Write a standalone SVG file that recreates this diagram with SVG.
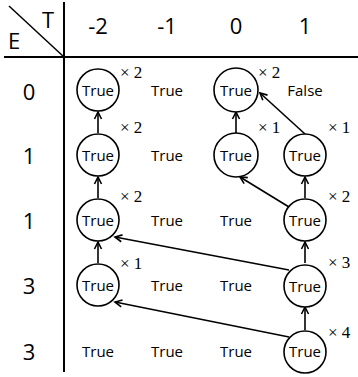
<svg xmlns="http://www.w3.org/2000/svg" width="358" height="377" viewBox="0 0 358 377">
<style>
.t{font-family:"Open Sans","Liberation Sans",sans-serif;font-size:15px;fill:#000;text-anchor:middle}
.h{font-family:"Open Sans","Liberation Sans",sans-serif;font-size:22px;fill:#000;text-anchor:middle}
.m{font-family:"Liberation Serif","DejaVu Serif",serif;font-size:17px;fill:#000}
.c{fill:#fff;stroke:#000;stroke-width:1.6}
.ax{stroke:#000;stroke-width:2;fill:none}
.ar{stroke:#000;stroke-width:1.6;fill:none;marker-end:url(#ah)}
</style>
<defs>
<marker id="ah" markerWidth="10" markerHeight="10" refX="8" refY="5" orient="auto" markerUnits="userSpaceOnUse">
<path d="M1,1.5 L8,5 L1,8.5" fill="none" stroke="#000" stroke-width="1.6"/>
</marker>
</defs>
<rect width="358" height="377" fill="#fff"/>
<g id="axes">
<line class="ax" x1="64" y1="2" x2="64" y2="372"/>
<line class="ax" x1="4" y1="57" x2="358" y2="57"/>
<line x1="9" y1="6" x2="64" y2="57" stroke="#000" stroke-width="1.5"/>
<text class="h" x="48" y="28">T</text>
<text class="h" x="14" y="49">E</text>
</g>
<g id="col-headers">
<text class="h" x="98" y="34">-2</text>
<text class="h" x="167" y="34">-1</text>
<text class="h" x="236" y="34">0</text>
<text class="h" x="305" y="34">1</text>
</g>
<g id="row-headers">
<text class="h" x="29" y="100">0</text>
<text class="h" x="29" y="164">1</text>
<text class="h" x="29" y="229">1</text>
<text class="h" x="29" y="294">3</text>
<text class="h" x="29" y="360">3</text>
</g>
<g id="connectors">
<line class="ar" x1="98" y1="133" x2="98" y2="112"/>
<line class="ar" x1="98" y1="198" x2="98" y2="177"/>
<line class="ar" x1="98" y1="263" x2="98" y2="242"/>
<line class="ar" x1="236" y1="133" x2="236" y2="112"/>
<line class="ar" x1="305" y1="134" x2="260" y2="93"/>
<line class="ar" x1="305" y1="198" x2="305" y2="177"/>
<line class="ar" x1="289" y1="207" x2="240" y2="177"/>
<line class="ar" x1="305" y1="263" x2="305" y2="242"/>
<line class="ar" x1="289" y1="270" x2="115" y2="237"/>
<line class="ar" x1="305" y1="330" x2="305" y2="307"/>
<line class="ar" x1="289" y1="337" x2="115" y2="302"/>
</g>
<g id="n-r0-cm2"><circle class="c" cx="98" cy="90" r="21"/><text class="t" x="98" y="96">True</text><text class="m" x="120" y="78">× 2</text></g>
<g id="n-r0-cm1"><text class="t" x="167" y="96">True</text></g>
<g id="n-r0-c0"><circle class="c" cx="236" cy="90" r="22"/><text class="t" x="236" y="96">True</text><text class="m" x="258" y="78">× 2</text></g>
<g id="n-r0-c1"><text class="t" x="305" y="96">False</text></g>
<g id="n-r1-cm2"><circle class="c" cx="98" cy="155" r="21"/><text class="t" x="98" y="161">True</text><text class="m" x="120" y="133">× 2</text></g>
<g id="n-r1-cm1"><text class="t" x="167" y="161">True</text></g>
<g id="n-r1-c0"><circle class="c" cx="236" cy="155" r="22"/><text class="t" x="236" y="161">True</text><text class="m" x="258" y="133">× 1</text></g>
<g id="n-r1-c1"><circle class="c" cx="305" cy="155" r="21"/><text class="t" x="305" y="161">True</text><text class="m" x="328" y="133">× 1</text></g>
<g id="n-r2-cm2"><circle class="c" cx="98" cy="220" r="21"/><text class="t" x="98" y="226">True</text><text class="m" x="120" y="202">× 2</text></g>
<g id="n-r2-cm1"><text class="t" x="167" y="226">True</text></g>
<g id="n-r2-c0"><text class="t" x="236" y="226">True</text></g>
<g id="n-r2-c1"><circle class="c" cx="305" cy="220" r="21"/><text class="t" x="305" y="226">True</text><text class="m" x="328" y="202">× 2</text></g>
<g id="n-r3-cm2"><circle class="c" cx="98" cy="285" r="21"/><text class="t" x="98" y="291">True</text><text class="m" x="120" y="269">× 1</text></g>
<g id="n-r3-cm1"><text class="t" x="167" y="291">True</text></g>
<g id="n-r3-c0"><text class="t" x="236" y="291">True</text></g>
<g id="n-r3-c1"><circle class="c" cx="305" cy="286" r="21"/><text class="t" x="305" y="292">True</text><text class="m" x="328" y="268">× 3</text></g>
<g id="n-r4-cm2"><text class="t" x="98" y="357">True</text></g>
<g id="n-r4-cm1"><text class="t" x="167" y="357">True</text></g>
<g id="n-r4-c0"><text class="t" x="236" y="357">True</text></g>
<g id="n-r4-c1"><circle class="c" cx="305" cy="352" r="21"/><text class="t" x="305" y="357">True</text><text class="m" x="328" y="338">× 4</text></g>
</svg>
